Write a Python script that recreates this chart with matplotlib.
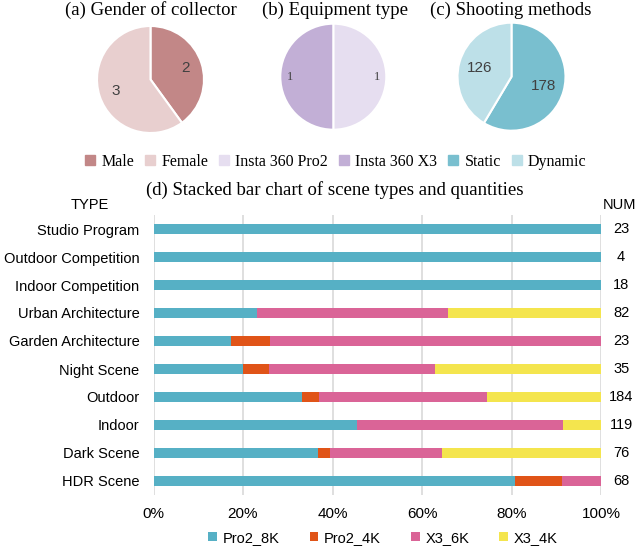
import numpy as np
import matplotlib
matplotlib.use('Agg')
import matplotlib.pyplot as plt
from matplotlib.patches import Patch

# Fonts: serif titles, Arial-like labels
matplotlib.rcParams['font.family'] = 'Liberation Sans'

# Pie data
gender_labels = ['Male', 'Female']
gender_counts = [2, 3]
equip_labels = ['Insta 360 Pro2', 'Insta 360 X3']
equip_counts = [1, 1]
method_labels = ['Static', 'Dynamic']
method_counts = [178, 126]

# Bar data (counts per scene type)
scene_types = ['Studio Program', 'Outdoor Competition', 'Indoor Competition',
               'Urban Architecture', 'Garden Architecture', 'Night Scene',
               'Outdoor', 'Indoor', 'Dark Scene', 'HDR Scene']
series_names = ['Pro2_8K', 'Pro2_4K', 'X3_6K', 'X3_4K']
pro2_8k = [23, 4, 18, 19, 4, 7, 61, 54, 28, 55]
pro2_4k = [0, 0, 0, 0, 2, 2, 7, 0, 2, 7]
x3_6k = [0, 0, 0, 35, 17, 13, 69, 55, 19, 6]
x3_4k = [0, 0, 0, 28, 0, 13, 47, 10, 27, 0]
pct_ticks = [0, 20, 40, 60, 80, 100]

# Colours
gender_colors = ['#C28787', '#E8CFCF']
equip_colors = ['#E6DEF0', '#C2AFD6']
method_colors = ['#79BFCF', '#BDE0E8']
bar_colors = ['#56B0C5', '#E05418', '#DA6497', '#F4E54E']

W, H = 640, 548
fig = plt.figure(figsize=(6.4, 5.48), dpi=100)


def px(x0, y0, w, h):
    # pixel box (top-left origin) -> figure fraction
    return [x0 / W, 1 - (y0 + h) / H, w / W, h / H]


serif = 'Liberation Serif'

## Pies
def draw_pie(cx, cy, r, counts, colors, title, tx, ldist, tprops):
    ax = fig.add_axes(px(cx - r, cy - r, 2 * r, 2 * r))
    wedges, texts = ax.pie(counts, colors=colors, startangle=90, counterclock=False,
                           labels=[str(c) for c in counts], labeldistance=ldist,
                           radius=1, wedgeprops=dict(edgecolor='white', linewidth=1.5),
                           textprops=tprops)
    for t in texts:
        t.set_horizontalalignment('center')
        t.set_verticalalignment('center')
    ax.set_xlim(-1, 1)
    ax.set_ylim(-1, 1)
    ax.set_axis_off()
    fig.text(tx / W, 1 - 10 / H, title, family=serif, fontsize=13.5,
             ha='center', va='center')
    return wedges


w1 = draw_pie(150.5, 79.5, 53.5, gender_counts, gender_colors,
              '(a) Gender of collector', 150.5, 0.68,
              dict(fontsize=11, color='#404040'))
w2 = draw_pie(333.3, 76.7, 53, equip_counts, equip_colors,
              '(b) Equipment type', 335, 0.82,
              dict(fontsize=9, color='#404040', family=serif))
w3 = draw_pie(511.5, 76.7, 54, method_counts, method_colors,
              '(c) Shooting methods', 511, 0.62,
              dict(fontsize=11, color='#404040'))

pie_handles = [Patch(color=c) for c in gender_colors + equip_colors + method_colors]
pie_names = gender_labels + equip_labels + method_labels
fig.legend(pie_handles, pie_names, loc='center', ncol=6,
           bbox_to_anchor=(336 / W, 1 - 162 / H), frameon=False,
           prop=dict(family=serif, size=11.5), handlelength=0.6, handleheight=0.6,
           handletextpad=0.4, columnspacing=0.7)

## Stacked bar
ax = fig.add_axes(px(153.5, 215, 447.5, 280))
totals = np.array(pro2_8k) + np.array(pro2_4k) + np.array(x3_6k) + np.array(x3_4k)
y = np.arange(len(scene_types))
left = np.zeros(len(scene_types))
for name, vals, col in zip(series_names, [pro2_8k, pro2_4k, x3_6k, x3_4k], bar_colors):
    share = np.array(vals) / totals * 100
    ax.barh(y, share, left=left, height=0.38, color=col, label=name, zorder=3)
    left += share

ax.set_xlim(0, 100)
ax.set_ylim(len(scene_types) - 0.5, -0.5)
ax.set_yticks(y)
ax.set_yticklabels(scene_types, fontsize=10.5)
ax.set_xticks(pct_ticks)
ax.set_xticklabels([f'{p}%' for p in pct_ticks], fontsize=11)
ax.tick_params(axis='both', length=0)
ax.tick_params(axis='y', pad=10)
ax.tick_params(axis='x', pad=9)
ax.grid(axis='x', color='#D9D9D9', linewidth=1.2, zorder=0)
for s in ax.spines.values():
    s.set_visible(False)

for i, n in enumerate(totals):
    ax.text(1.045, i, str(n), transform=ax.get_yaxis_transform(),
            ha='center', va='center', fontsize=10.5)

fig.text(90 / W, 1 - 205 / H, 'TYPE', ha='center', va='center', fontsize=10.5)
fig.text(620 / W, 1 - 205 / H, 'NUM', ha='center', va='center', fontsize=10.5)
fig.text(335 / W, 1 - 190 / H, '(d) Stacked bar chart of scene types and quantities',
         family=serif, fontsize=13.5, ha='center', va='center')

fig.legend(*ax.get_legend_handles_labels(), loc='center', ncol=4,
           bbox_to_anchor=(383 / W, 1 - 538 / H), frameon=False,
           prop=dict(size=10.5), handlelength=0.6, handleheight=0.6,
           handletextpad=0.4, columnspacing=2.05)

plt.savefig('out.png', dpi=100)
